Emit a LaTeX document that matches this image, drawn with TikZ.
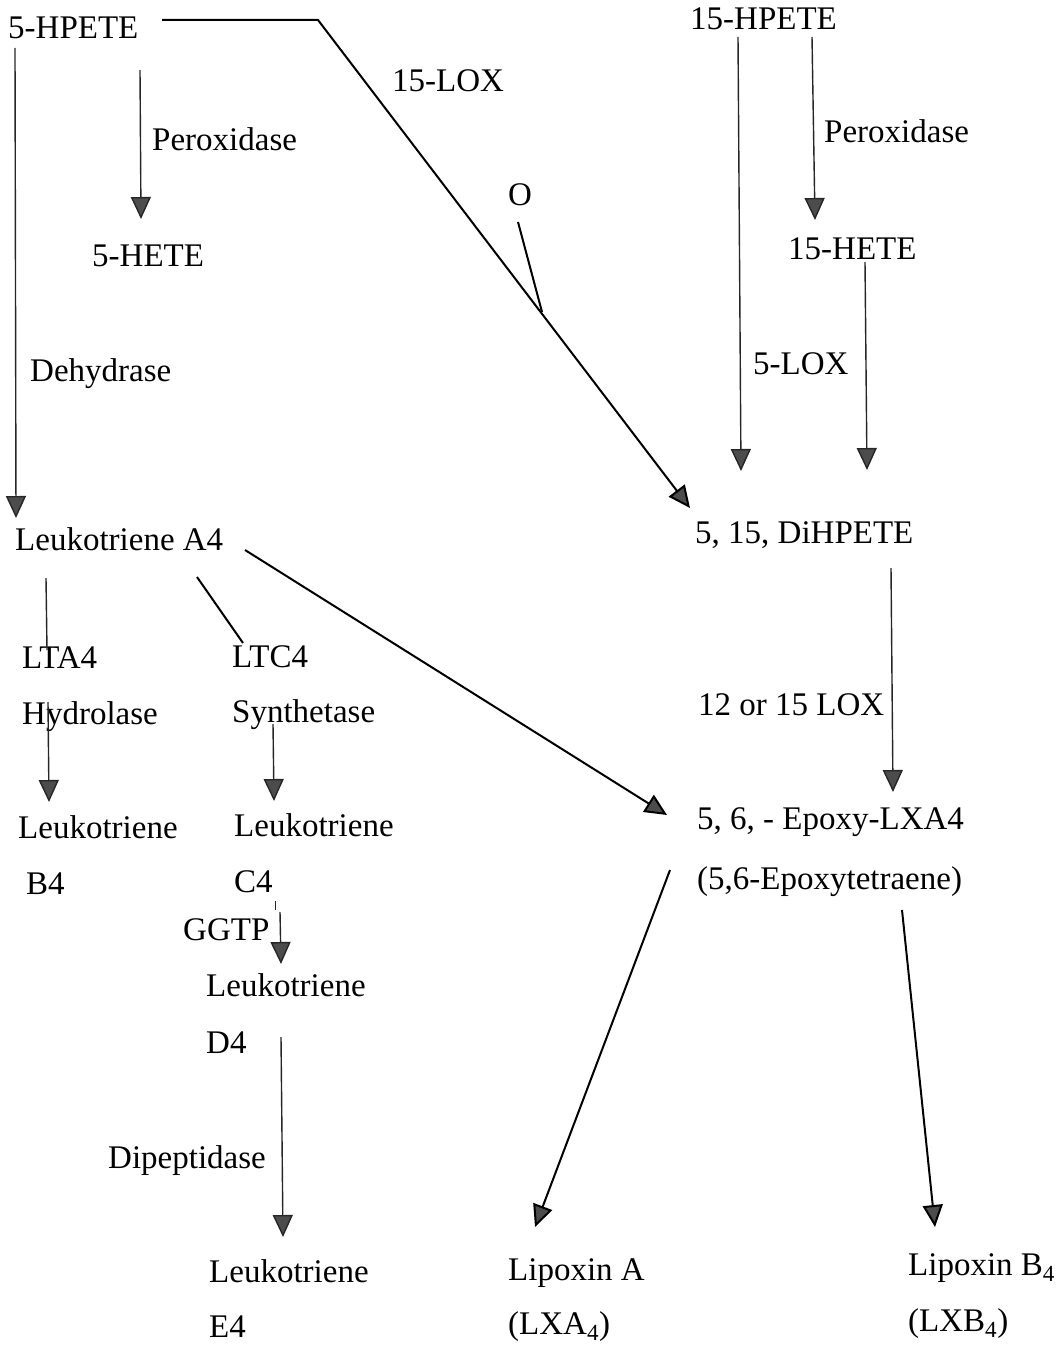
\documentclass[tikz,border=0pt]{standalone}
\usepackage{fontspec}
\setmainfont{Liberation Serif}
\usetikzlibrary{arrows.meta}
\begin{document}
\begin{tikzpicture}[x=1pt,y=-1pt,
  lbl/.style={anchor=base west, inner sep=0pt, font=\fontsize{33}{39}\selectfont},
  conn/.style={line width=1.4pt, draw=black!85},
  dconn/.style={line width=2pt, draw=black},
  tip/.style={-{Triangle[width=20pt,length=22pt,fill=black!70]}},
  arr/.style={conn, tip},
  darr/.style={dconn, tip}]
\useasboundingbox (0,0) rectangle (1061,1346);

% ---- text nodes ----
\node[lbl] (hp5)   at (8,38)    {5-HPETE};
\node[lbl] (lox15) at (392,92)  {15-LOX};
\node[lbl] (o)     at (508,205) {O};
\node[lbl] (per1)  at (152,150) {Peroxidase};
\node[lbl] (he5)   at (92,266)  {5-HETE};
\node[lbl] (dehy)  at (30,381)  {Dehydrase};
\node[lbl] (lta4)  at (15,550)  {Leukotriene A4};

\node[lbl] (hp15)  at (690,30)  {15-HPETE};
\node[lbl] (per2)  at (824,142) {Peroxidase};
\node[lbl] (he15)  at (788,259) {15-HETE};
\node[lbl] (lox5)  at (753,374) {5-LOX};
\node[lbl] (dih)   at (695,543) {5, 15, DiHPETE};
\node[lbl] (lox12) at (698,715) {12 or 15 LOX};
\node[lbl] (epo)   at (697,829) {5, 6, - Epoxy-LXA4};
\node[lbl] (epo2)  at (697,889) {(5,6-Epoxytetraene)};

\node[lbl] (hyd1)  at (22,668)  {LTA4};
\node[lbl] (hyd2)  at (22,724)  {Hydrolase};
\node[lbl] (ltb1)  at (18,838)  {Leukotriene};
\node[lbl] (ltb2)  at (26,894)  {B4};

\node[lbl] (syn1)  at (232,667) {LTC4};
\node[lbl] (syn2)  at (232,722) {Synthetase};
\node[lbl] (ltc1)  at (234,836) {Leukotriene};
\node[lbl] (ltc2)  at (234,892) {C4};
\node[lbl] (ggtp)  at (183,940) {GGTP};
\node[lbl] (ltd1)  at (206,996) {Leukotriene};
\node[lbl] (ltd2)  at (206,1053){D4};
\node[lbl] (dip)   at (108,1168){Dipeptidase};
\node[lbl] (lte1)  at (209,1282){Leukotriene};
\node[lbl] (lte2)  at (209,1337){E4};

\node[lbl] (lxa1)  at (508,1280){Lipoxin A};
\node[lbl] (lxa2)  at (508,1334){(LXA\textsubscript{4})};
\node[lbl] (lxb1)  at (908,1275){Lipoxin B\textsubscript{4}};
\node[lbl] (lxb2)  at (908,1331){(LXB\textsubscript{4})};

% ---- connector end points ----
\coordinate (a1) at (162,20);  \coordinate (a2) at (318,20);  \coordinate (a3) at (690,508);
\coordinate (o1) at (518,222); \coordinate (o2) at (542,312);
\coordinate (b1) at (140,70);  \coordinate (b2) at (141,219);
\coordinate (c1) at (15,48);   \coordinate (c2) at (16,518);
\coordinate (d1) at (738,37);  \coordinate (d2) at (741,471);
\coordinate (e1) at (812,37);  \coordinate (e2) at (815,220);
\coordinate (f1) at (865,262); \coordinate (f2) at (867,470);
\coordinate (g1) at (891,568); \coordinate (g2) at (893,792);
\coordinate (h1) at (245,550); \coordinate (h2) at (667,815);
\coordinate (i1) at (670,870); \coordinate (i2) at (535,1227);
\coordinate (j1) at (902,910); \coordinate (j2) at (935,1227);
\coordinate (k1) at (46,578);  \coordinate (k2) at (47,650);
\coordinate (l1) at (48,702);  \coordinate (l2) at (49,802);
\coordinate (m1) at (197,577); \coordinate (m2) at (243,643);
\coordinate (n1) at (273,724); \coordinate (n2) at (274,801);
\coordinate (p1) at (275,901); \coordinate (p2) at (275,910);
\coordinate (q1) at (280,912); \coordinate (q2) at (281,964);
\coordinate (r1) at (281,1037);\coordinate (r2) at (283,1237);

% ---- connectors ----
\draw[darr] (a1) -- (a2) -- (a3);
\draw[dconn] (o1) -- (o2);
\draw[arr] (b1) -- (b2);
\draw[arr] (c1) -- (c2);
\draw[arr] (d1) -- (d2);
\draw[arr] (e1) -- (e2);
\draw[arr] (f1) -- (f2);
\draw[arr] (g1) -- (g2);
\draw[darr] (h1) -- (h2);
\draw[darr] (i1) -- (i2);
\draw[darr] (j1) -- (j2);
\draw[conn] (k1) -- (k2);
\draw[arr] (l1) -- (l2);
\draw[dconn] (m1) -- (m2);
\draw[arr] (n1) -- (n2);
\draw[conn,line width=1pt] (p1) -- (p2);
\draw[arr] (q1) -- (q2);
\draw[arr] (r1) -- (r2);
\end{tikzpicture}
\end{document}
